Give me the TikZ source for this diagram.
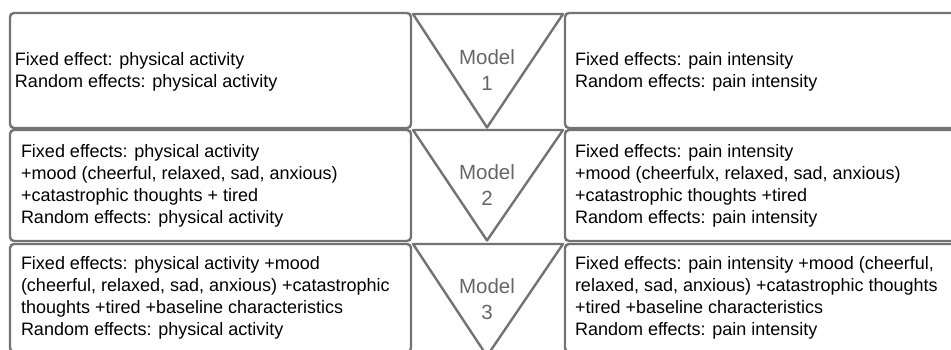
\documentclass[tikz,border=0pt]{standalone}
\usepackage{fontspec}
\setmainfont{Liberation Sans}
\usetikzlibrary{positioning}

\definecolor{edgegray}{HTML}{737373}
\definecolor{modelgray}{HTML}{666666}

\tikzset{
  rowbox/.style={draw=edgegray, line width=2.4pt, rounded corners=4pt, inner sep=0pt, minimum height=#1},
  lbox/.style={rowbox=#1, minimum width=401pt},
  rbox/.style={rowbox=#1, minimum width=400pt},
  txt/.style={inner sep=0pt, align=left, font=\fontsize{18}{22}\selectfont, text=black},
  modeltxt/.style={inner sep=0pt, align=center, font=\fontsize{20.5}{26}\selectfont, text=modelgray},
  tri/.style={draw=edgegray, line width=2.4pt, line join=round}
}

\begin{document}
\begin{tikzpicture}[x=1pt,y=-1pt]
    \useasboundingbox (0,0) rectangle (951,349);
    \clip (0,0) rectangle (951,349);

% left column
    \node[lbox=115pt] (L1) at (210.5,70.5) {};
    \node[lbox=111pt] (L2) at (210.5,185.5) {};
    \node[lbox=108pt] (L3) at (210.5,298) {};

% right column
    \node[rbox=115pt] (R1) at (765,70.5) {};
    \node[rbox=111pt] (R2) at (765,185.5) {};
    \node[rbox=108pt] (R3) at (765,298) {};

% triangles
    \draw[tri] (413,14) -- (563,14) -- (487,127.5) -- cycle;
    \draw[tri] (413,130) -- (563,130) -- (487,240.5) -- cycle;
    \draw[tri] (413,244) -- (563,244) -- (487,356) -- cycle;

    \node[modeltxt] (m1) at (487,70.5) {Model\\1};
    \node[modeltxt] (m2) at (487,185.5) {Model\\2};
    \node[modeltxt] (m3) at (487,299) {Model\\3};

% texts
    \node[txt, right=6pt of L1.west, yshift=-1.5pt] (tl1) {Fixed effect: physical activity\\Random effects: physical activity};
    \node[txt, right=12pt of L2.west] (tl2) {Fixed effects: physical activity\\+mood (cheerful, relaxed, sad, anxious)\\+catastrophic thoughts + tired\\Random effects: physical activity};
    \node[txt, right=12pt of L3.west] (tl3) {Fixed effects: physical activity +mood\\(cheerful, relaxed, sad, anxious) +catastrophic\\thoughts +tired +baseline characteristics\\Random effects: physical activity};

    \node[txt, right=11pt of R1.west, yshift=-1.5pt] (tr1) {Fixed effects: pain intensity\\Random effects: pain intensity};
    \node[txt, right=11pt of R2.west] (tr2) {Fixed effects: pain intensity\\+mood (cheerfulx, relaxed, sad, anxious)\\+catastrophic thoughts +tired\\Random effects: pain intensity};
    \node[txt, right=11pt of R3.west] (tr3) {Fixed effects: pain intensity +mood (cheerful,\\relaxed, sad, anxious) +catastrophic thoughts\\+tired +baseline characteristics\\Random effects: pain intensity};

\end{tikzpicture}
\end{document}
